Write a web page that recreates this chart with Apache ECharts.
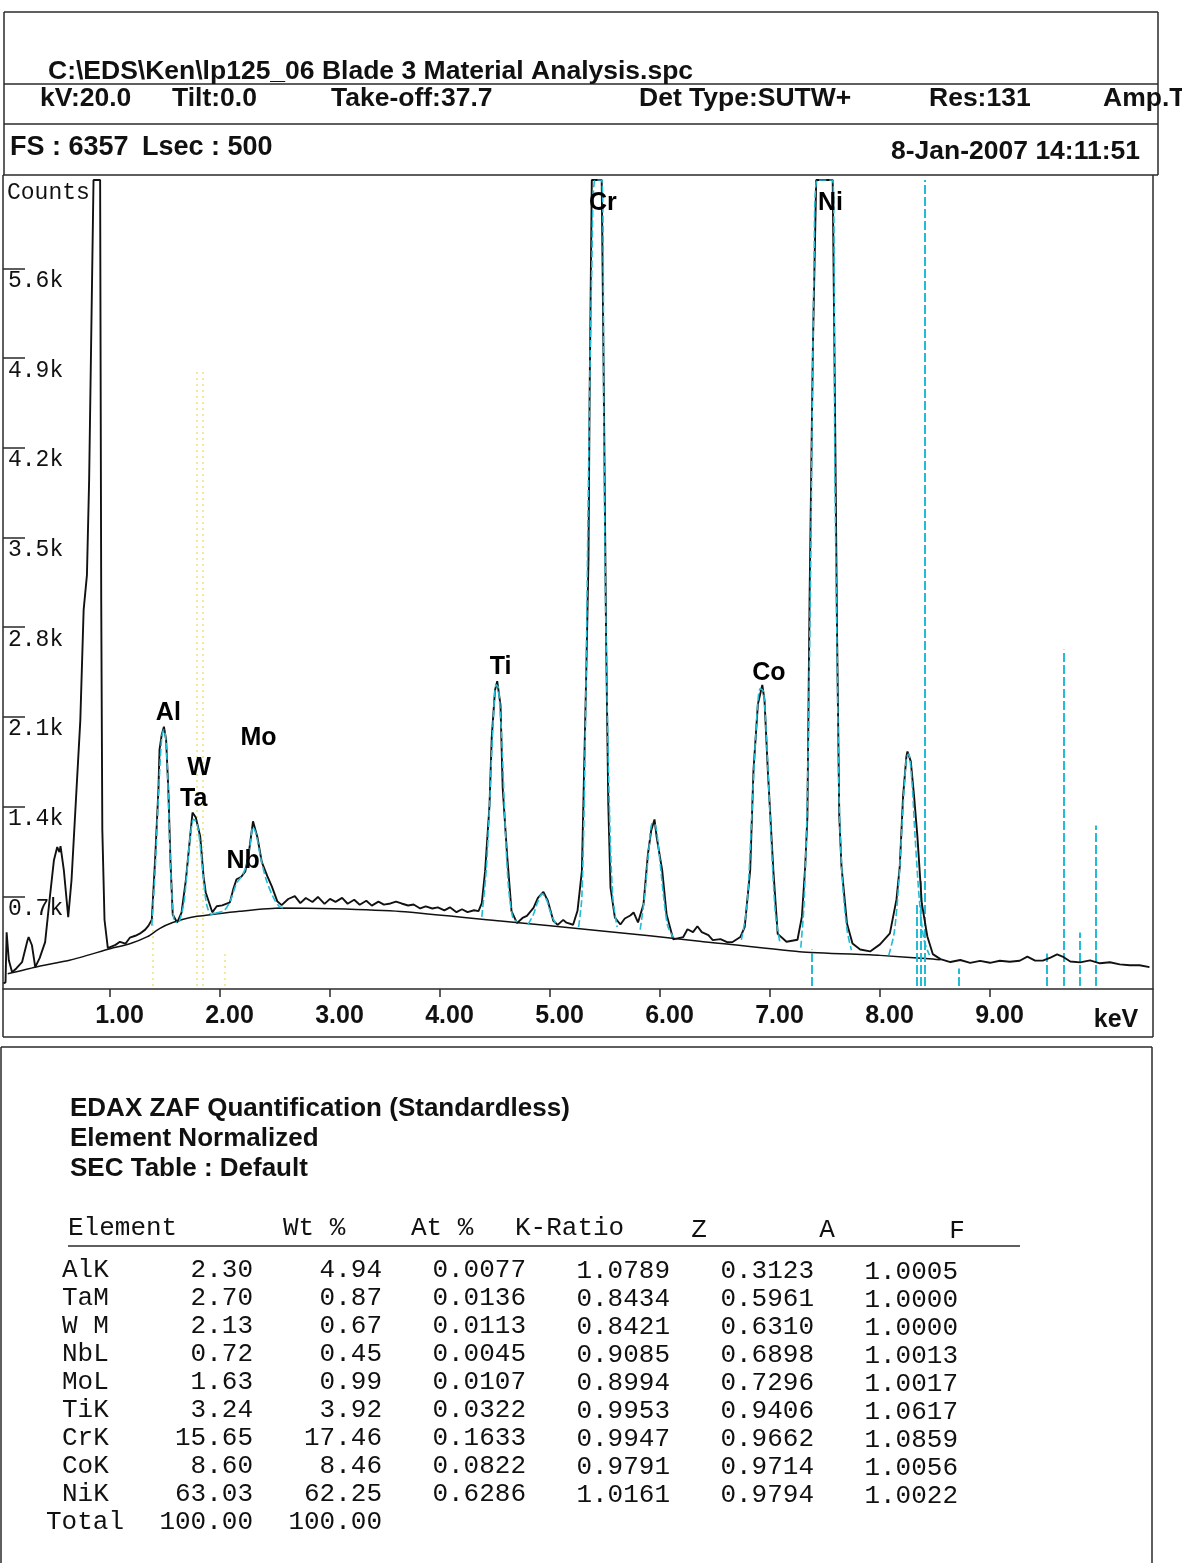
<!DOCTYPE html>
<html>
<head>
<meta charset="utf-8">
<title>EDS spectrum - Blade 3 material analysis</title>
<script src="https://cdn.jsdelivr.net/npm/echarts@6/dist/echarts.min.js"></script>
<style>
  html, body { margin: 0; padding: 0; background: #fff; }
  #chart { width: 1182px; height: 1563px; }
</style>
</head>
<body>
<div id="chart"></div>
<script>
// measured spectrum, energy in keV and counts
const spectrumKeV = [0.03,0.05,0.06,0.08,0.11,0.15,0.20,0.25,0.26,0.29,0.32,0.36,0.41,0.45,0.49,0.52,0.54,0.55,0.58,0.62,
  0.65,0.69,0.73,0.76,0.79,0.81,0.83,0.85,0.91,0.92,0.93,0.95,0.98,1.05,1.09,1.14,1.18,1.23,1.27,1.32,
  1.35,1.38,1.41,1.44,1.45,1.47,1.49,1.51,1.53,1.55,1.57,1.61,1.65,1.69,1.73,1.75,1.78,1.82,1.85,1.87,
  1.93,1.97,2.02,2.09,2.12,2.15,2.19,2.23,2.26,2.30,2.34,2.38,2.43,2.47,2.52,2.56,2.62,2.68,2.73,2.78,
  2.84,2.89,2.95,3.00,3.05,3.11,3.16,3.22,3.27,3.33,3.38,3.44,3.49,3.55,3.60,3.65,3.71,3.76,3.82,3.87,
  3.93,3.98,4.04,4.09,4.15,4.20,4.25,4.31,4.35,4.38,4.41,4.45,4.47,4.50,4.52,4.55,4.57,4.61,4.65,4.70,
  4.75,4.79,4.85,4.89,4.94,4.98,5.03,5.07,5.12,5.15,5.21,5.25,5.29,5.31,5.33,5.35,5.36,5.38,5.47,5.49,
  5.51,5.53,5.55,5.59,5.64,5.68,5.73,5.76,5.80,5.85,5.89,5.92,5.95,5.97,6.02,6.06,6.12,6.21,6.25,6.30,
  6.34,6.38,6.44,6.48,6.55,6.61,6.66,6.73,6.77,6.82,6.85,6.89,6.93,6.95,6.98,7.03,7.07,7.15,7.25,7.29,
  7.32,7.34,7.36,7.39,7.42,7.57,7.59,7.61,7.63,7.65,7.70,7.75,7.82,7.91,8.00,8.09,8.15,8.18,8.21,8.24,
  8.25,8.28,8.31,8.34,8.38,8.43,8.48,8.55,8.64,8.73,8.82,8.91,9.00,9.09,9.18,9.27,9.34,9.41,9.48,9.55,
  9.61,9.66,9.73,9.82,9.91,10.00,10.09,10.18,10.27,10.36,10.45];
const spectrumCounts = [21,29,419,201,107,139,186,357,381,318,147,218,342,670,982,1084,1045,1092,905,538,
  827,1451,2075,2933,3206,3947,5117,6290,6290,3011,1217,515,296,321,345,330,377,392,408,440,
  471,518,986,1532,1844,1961,2023,1922,1533,963,558,495,573,831,1182,1354,1315,1167,855,730,
  575,622,629,653,754,833,849,895,1028,1285,1161,966,857,779,662,631,679,702,647,687,
  656,695,641,680,657,688,642,673,634,665,627,658,635,644,659,644,628,636,605,621,
  605,614,590,614,576,599,576,591,584,647,896,1411,1934,2309,2379,2192,1544,1022,585,491,
  531,547,609,687,734,665,509,477,516,494,478,587,899,1679,2459,3340,4587,6290,6290,4590,
  2717,1415,768,534,480,527,550,574,496,637,1027,1214,1300,1160,902,559,364,381,443,420,
  466,420,397,358,366,342,343,382,460,906,1686,2200,2349,2232,1686,906,407,345,361,541,
  931,1321,3037,4987,6290,6290,4598,2726,1322,932,488,332,285,270,325,411,676,934,1480,1792,
  1830,1753,1480,1168,646,389,249,210,187,203,180,196,181,197,189,197,229,198,198,222,
  246,230,191,184,200,177,185,169,162,162,147];

// continuum background
const backgroundKeV = [0.07,0.32,0.64,1.00,1.18,1.34,1.45,1.57,1.73,1.94,2.18,2.55,3.03,3.64,4.55,5.45,6.36,7.27,8.00,8.48,8.55];
const backgroundCounts = [95,147,203,290,330,385,448,495,535,559,583,608,602,581,507,432,350,268,239,210,205];

// fitted peak profiles (cyan), [keV, counts]
const fitAl = [[1.38,470],[1.41,900],[1.44,1480],[1.47,1940],[1.49,2000],[1.51,1900],[1.53,1480],[1.55,930],[1.58,520],[1.61,495]];
const fitTa = [[1.63,500],[1.67,640],[1.70,900],[1.73,1170],[1.76,1300],[1.79,1270],[1.82,1100],[1.85,830],[1.88,630],[1.92,560],[1.96,570]];
const fitMo = [[1.96,570],[2.04,590],[2.10,680],[2.15,800],[2.20,860],[2.24,940],[2.27,1080],[2.30,1240],[2.33,1180],[2.37,1000],[2.42,830],[2.48,700],[2.54,620],[2.60,610]];
const fitTi = [[4.38,540],[4.42,900],[4.45,1400],[4.48,2000],[4.51,2350],[4.53,2330],[4.56,1950],[4.59,1300],[4.62,800],[4.66,540],[4.70,500]];
const fitTiB = [[4.80,480],[4.85,560],[4.89,660],[4.93,720],[4.97,670],[5.01,560],[5.06,475]];
const fitCr = [[5.26,460],[5.29,700],[5.32,1900],[5.35,4000],[5.38,5600],[5.41,6290],[5.47,6290],[5.49,4300],[5.51,2700],[5.54,1400],[5.57,700],[5.61,460]];
const fitCrB = [[5.82,440],[5.86,700],[5.90,1080],[5.93,1270],[5.96,1250],[5.99,1050],[6.03,720],[6.07,470],[6.12,380]];
const fitCo = [[6.74,360],[6.79,620],[6.83,1250],[6.87,1950],[6.91,2320],[6.94,2300],[6.97,1900],[7.01,1150],[7.05,560],[7.09,340]];
const fitNi = [[7.28,300],[7.31,650],[7.34,1500],[7.37,3300],[7.40,5600],[7.43,6290],[7.57,6290],[7.59,4000],[7.61,2600],[7.63,1400],[7.66,800],[7.70,440],[7.74,280]];
const fitNiB = [[8.08,240],[8.13,420],[8.17,800],[8.21,1400],[8.24,1780],[8.26,1810],[8.29,1600],[8.32,1150],[8.36,650],[8.40,360],[8.45,240]];

// KLM line markers (cyan) and the faint yellow ones
const markerKeV = [7.38, 8.33, 8.37, 8.41, 8.72, 9.52, 9.67, 9.82, 9.96];
const markerTop = [284, 638, 817, 6290, 137, 253, 2625, 418, 1253];
const yellowKeV = [1.39, 1.79, 1.84, 2.04];
const yellowTop = [560, 4800, 4800, 250];

// peak labels
const labelNames = ['Al', 'W', 'Ta', 'Mo', 'Nb', 'Ti', 'Cr', 'Co', 'Ni'];
const labelKeV = [1.53, 1.81, 1.76, 2.35, 2.21, 4.55, 5.48, 6.99, 7.55];
const labelCounts = [2130, 1701, 1459, 1935, 975, 2489, 6110, 2442, 6110];

// axes
const xTicks = [1, 2, 3, 4, 5, 6, 7, 8, 9];
const yTicks = [700, 1400, 2100, 2800, 3500, 4200, 4900, 5600];

// header
const fileName = 'C:\\EDS\\Ken\\lp125_06 Blade 3 Material Analysis.spc';
const headerFields = ['kV:20.0', 'Tilt:0.0', 'Take-off:37.7', 'Det Type:SUTW+', 'Res:131', 'Amp.T'];
const headerFieldX = [40, 172, 331, 639, 929, 1103];

// quantification table
const tableTitle = ['EDAX ZAF Quantification (Standardless)', 'Element Normalized', 'SEC Table : Default'];
const elements = ['AlK', 'TaM', 'W M', 'NbL', 'MoL', 'TiK', 'CrK', 'CoK', 'NiK'];
const wtPct = [2.30, 2.70, 2.13, 0.72, 1.63, 3.24, 15.65, 8.60, 63.03];
const atPct = [4.94, 0.87, 0.67, 0.45, 0.99, 3.92, 17.46, 8.46, 62.25];
const kRatio = [0.0077, 0.0136, 0.0113, 0.0045, 0.0107, 0.0322, 0.1633, 0.0822, 0.6286];
const zFactor = [1.0789, 0.8434, 0.8421, 0.9085, 0.8994, 0.9953, 0.9947, 0.9791, 1.0161];
const aFactor = [0.3123, 0.5961, 0.6310, 0.6898, 0.7296, 0.9406, 0.9662, 0.9714, 0.9794];
const fFactor = [1.0005, 1.0000, 1.0000, 1.0013, 1.0017, 1.0617, 1.0859, 1.0056, 1.0022];
const totalWt = 100.00;
const totalAt = 100.00;

const INK = '#111';
const CYAN = '#22bcd6';
const SANS = '"Liberation Sans", Arial, sans-serif';
const MONO = '"Liberation Mono", "Courier New", monospace';
const sansB = px => `bold ${px}px ${SANS}`;
const mono = px => `${px}px ${MONO}`;

const graphics = [];
function txt(x, y, s, font, align) {
  graphics.push({
    type: 'text', x, y, z: 20, silent: true,
    style: { text: s, font, fill: INK, textAlign: align || 'left', align: align || 'left', textVerticalAlign: 'middle', verticalAlign: 'middle' }
  });
}
function ln(x1, y1, x2, y2, w) {
  graphics.push({ type: 'line', z: 20, silent: true, shape: { x1, y1, x2, y2 }, style: { stroke: '#2a2a2a', lineWidth: w || 1.5 } });
}

// frames
ln(4, 12, 1158, 12); ln(4, 12, 4, 175); ln(1158, 12, 1158, 175);
ln(4, 84, 1158, 84); ln(4, 124, 1158, 124); ln(3, 175, 1158, 175);
ln(3, 175, 3, 1037); ln(1153, 175, 1153, 1037); ln(3, 1037, 1153, 1037);
ln(1, 1047, 1152, 1047); ln(1152, 1047, 1152, 1563); ln(1, 1047, 1, 1563);

// header text
txt(48, 72, fileName, sansB(26.5));
headerFields.forEach((f, i) => txt(headerFieldX[i], 99, f, sansB(26.5)));
txt(10, 148, 'FS : 6357', sansB(27));
txt(142, 148, 'Lsec : 500', sansB(27));
txt(1140, 152, '8-Jan-2007 14:11:51', sansB(26.5), 'right');
txt(7, 193, 'Counts', mono(23));
txt(1116, 1020, 'keV', sansB(25), 'center');

// quantification block
tableTitle.forEach((t, i) => txt(70, 1109 + i * 30, t, sansB(26)));
txt(68, 1228, 'Element', mono(26));
txt(283, 1228, 'Wt %', mono(26));
txt(411, 1228, 'At %', mono(26));
txt(515, 1228, 'K-Ratio', mono(26));
txt(699, 1230, 'Z', mono(26), 'center');
txt(827, 1230, 'A', mono(26), 'center');
txt(957, 1231, 'F', mono(26), 'center');
ln(68, 1246, 1020, 1246, 1.5);
elements.forEach((el, i) => {
  const y = 1270 + i * 28;
  txt(62, y, el, mono(26));
  txt(253, y, wtPct[i].toFixed(2), mono(26), 'right');
  txt(382, y, atPct[i].toFixed(2), mono(26), 'right');
  txt(526, y, kRatio[i].toFixed(4), mono(26), 'right');
  txt(670, y + 1, zFactor[i].toFixed(4), mono(26), 'right');
  txt(814, y + 1, aFactor[i].toFixed(4), mono(26), 'right');
  txt(958, y + 2, fFactor[i].toFixed(4), mono(26), 'right');
});
txt(46, 1522, 'Total', mono(26));
txt(253, 1522, totalWt.toFixed(2), mono(26), 'right');
txt(382, 1522, totalAt.toFixed(2), mono(26), 'right');

const pairs = (xs, ys) => xs.map((x, i) => [x, ys[i]]);
const fits = [fitAl, fitTa, fitMo, fitTi, fitTiB, fitCr, fitCrB, fitCo, fitNi, fitNiB];

const fitSeries = fits.map(f => ({
  type: 'line', data: f, symbol: 'none', smooth: 0.3, z: 6, silent: true,
  lineStyle: { color: CYAN, width: 1.6, type: [7, 3] }
}));

const option = {
  animation: false,
  backgroundColor: '#fff',
  grid: { left: 3, right: 29, top: 180, bottom: 577 },
  xAxis: {
    type: 'value', min: 0.027, max: 10.482, offset: 3,
    axisLine: { show: true, onZero: false, lineStyle: { color: '#2a2a2a', width: 1.5 } },
    axisTick: { show: true, customValues: xTicks, length: 8, lineStyle: { color: '#2a2a2a', width: 1.5 } },
    axisLabel: {
      customValues: xTicks, formatter: v => v.toFixed(2), margin: 15, padding: [0, 0, 0, 19],
      color: INK, fontWeight: 'bold', fontSize: 25, fontFamily: SANS
    },
    splitLine: { show: false }
  },
  yAxis: {
    type: 'value', min: 0, max: 6290, interval: 700,
    axisLine: { show: false },
    axisTick: { show: true, inside: true, length: 22, customValues: yTicks, lineStyle: { color: '#2a2a2a', width: 1.5 } },
    axisLabel: {
      inside: true, customValues: yTicks, margin: 5, align: 'left', verticalAlign: 'top', padding: [1, 0, 0, 0],
      formatter: v => (v / 1000).toFixed(1) + 'k',
      color: INK, fontSize: 23, fontFamily: MONO
    },
    splitLine: { show: false }
  },
  series: [
    {
      type: 'line', name: 'background', data: pairs(backgroundKeV, backgroundCounts), symbol: 'none', smooth: 0.2, z: 4, silent: true,
      lineStyle: { color: INK, width: 1.5 },
      markLine: {
        silent: true, symbol: ['none', 'none'], label: { show: false }, animation: false,
        lineStyle: { color: '#efe070', width: 2, type: [2, 4], opacity: 0.7 },
        data: yellowKeV.map((k, i) => [{ coord: [k, 0] }, { coord: [k, yellowTop[i]] }])
      }
    },
    {
      type: 'line', name: 'spectrum', data: pairs(spectrumKeV, spectrumCounts), symbol: 'none', z: 5, silent: true,
      lineStyle: { color: INK, width: 1.9 },
      markLine: {
        silent: true, symbol: ['none', 'none'], label: { show: false }, animation: false,
        lineStyle: { color: CYAN, width: 2, type: [9, 3] },
        data: markerKeV.map((k, i) => [{ coord: [k, 0] }, { coord: [k, markerTop[i]] }])
      }
    },
    ...fitSeries,
    {
      type: 'scatter', name: 'labels', symbolSize: 0, z: 10, silent: true,
      itemStyle: { opacity: 1 },
      data: labelNames.map((n, i) => ({ name: n, value: [labelKeV[i], labelCounts[i]] })),
      label: {
        show: true, position: 'inside', formatter: p => p.name, opacity: 1,
        color: '#000', fontWeight: 'bold', fontSize: 25, fontFamily: SANS
      }
    }
  ],
  graphic: { elements: graphics }
};

const chart = echarts.init(document.getElementById('chart'));
chart.setOption(option);
window.addEventListener('resize', () => chart.resize());
</script>
</body>
</html>
